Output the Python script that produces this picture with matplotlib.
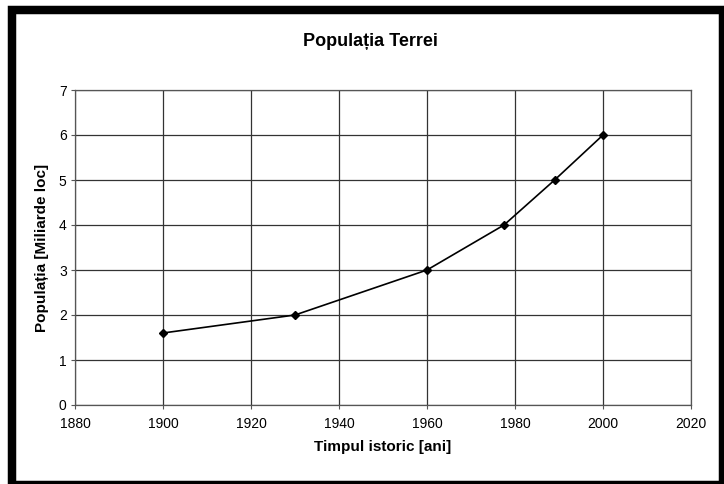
import matplotlib
matplotlib.use("Agg")
import matplotlib.pyplot as plt
from matplotlib.patches import Rectangle

plt.rcParams['font.family'] = ['Liberation Sans', 'DejaVu Sans']

# data
years = [1900, 1930, 1960, 1977.5, 1989, 2000]
population = [1.6, 2.0, 3.0, 4.0, 5.0, 6.0]
x_ticks = [1880, 1900, 1920, 1940, 1960, 1980, 2000, 2020]
y_ticks = [0, 1, 2, 3, 4, 5, 6, 7]

W, H = 724, 484
fig = plt.figure(figsize=(W / 100, H / 100), dpi=100)
ax = fig.add_axes([75 / W, 1 - 405 / H, (691 - 75) / W, (405 - 90) / H])

ax.plot(years, population, color="black", linewidth=1.2,
        marker="D", markersize=4.5, markerfacecolor="black")

ax.set_xlim(1880, 2020)
ax.set_ylim(0, 7)
ax.set_xticks(x_ticks)
ax.set_yticks(y_ticks)
ax.grid(True, color="#333333", linewidth=0.9)
ax.set_axisbelow(True)

for side in ["top", "right", "left", "bottom"]:
    ax.spines[side].set_color("#555555")
    ax.spines[side].set_linewidth(0.9)

ax.tick_params(axis="both", labelsize=10, colors="black", length=3, width=0.8,
               direction="out", color="#555555")
ax.tick_params(axis="x", pad=6)
ax.tick_params(axis="y", pad=3)

ax.set_xlabel("Timpul istoric [ani]", fontsize=11, fontweight="bold", va="center")
ax.xaxis.set_label_coords(0.5, (405 - 447) / 315)
ax.set_ylabel("Populația [Miliarde loc]", fontsize=11, fontweight="bold", va="center")
ax.yaxis.set_label_coords((42 - 75) / 616, 0.5)

fig.text(370 / W, 1 - 41 / H, "Populația Terrei", ha="center", va="center",
         fontsize=13, fontweight="bold")

# thick black frame, slightly offset so the right/bottom edges get clipped
fig.patches.append(Rectangle((12 / W, 1 - 485 / H), (723 - 12) / W, (485 - 10.5) / H,
                             transform=fig.transFigure, fill=False,
                             edgecolor="black", linewidth=6.1))

fig.savefig("out.png", dpi=100)
